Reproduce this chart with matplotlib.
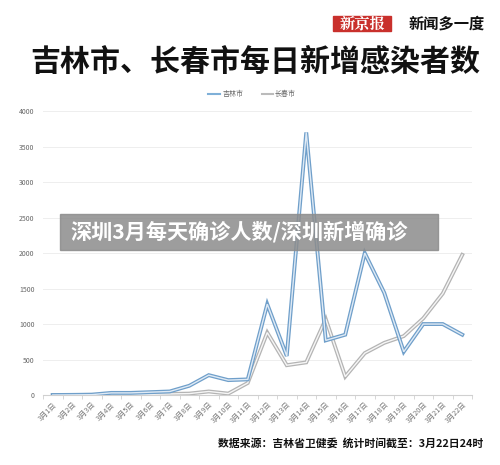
import matplotlib
matplotlib.use("Agg")
import matplotlib.pyplot as plt
from matplotlib.patches import Rectangle

plt.rcParams['font.family'] = ['Noto Sans CJK SC', 'DejaVu Sans']

days = ["3月%d日" % d for d in range(1, 23)]
jilin = [0, 2, 5, 30, 30, 40, 50, 130, 280, 210, 220, 1280, 550, 3700,
         770, 850, 2000, 1440, 610, 1000, 1000, 850]
changchun = [0, 0, 2, 5, 8, 10, 15, 20, 50, 20, 170, 880, 420, 460,
             1070, 260, 590, 735, 830, 1080, 1430, 1975]
yticks = [0, 500, 1000, 1500, 2000, 2500, 3000, 3500, 4000]

fig = plt.figure(figsize=(5, 4.65), dpi=100)
fig.patch.set_facecolor("white")

ax = fig.add_axes([0.086, 0.1505, 0.858, 0.6105])
x = list(range(len(days)))

# double-stroke look of the original lines
ax.plot(x, jilin, color="#6f9fca", lw=2.8, solid_joinstyle="miter", zorder=3)
ax.plot(x, jilin, color="#dfeaf5", lw=1.0, solid_joinstyle="miter", zorder=4)
ax.plot(x, changchun, color="#b4b4b4", lw=2.8, solid_joinstyle="miter", zorder=2)
ax.plot(x, changchun, color="#f6f6f6", lw=1.0, solid_joinstyle="miter", zorder=2.5)

ax.set_xlim(-0.5, len(days) - 0.5)
ax.set_ylim(0, 4000)
ax.set_yticks(yticks)
ax.set_yticklabels([str(v) for v in yticks], fontsize=5, color="#666666")
ax.set_xticks(x)
ax.set_xticklabels(days, rotation=45, ha="right", rotation_mode="anchor",
                   fontsize=5.2, color="#777777")
ax.tick_params(axis="y", length=0, pad=6)
ax.tick_params(axis="x", length=0, pad=4)
ax.set_xticks([i - 0.5 for i in range(len(days) + 1)], minor=True)
ax.tick_params(axis="x", which="minor", length=3, color="#d0d0d0")
ax.grid(axis="y", color="#eeeeee", lw=0.7)
ax.set_axisbelow(True)
for s in ["top", "right", "left"]:
    ax.spines[s].set_visible(False)
ax.spines["bottom"].set_color("#d0d0d0")
ax.spines["bottom"].set_linewidth(0.8)

# header
fig.patches.append(Rectangle((333 / 500, 1 - 31 / 465), 58 / 500, 15 / 465,
                             transform=fig.transFigure, color="#c9302c"))
fig.text(362 / 500, 1 - 23.5 / 465, "新京报", color="white", fontsize=11,
         ha="center", va="center", family=["Noto Serif CJK SC", "Noto Sans CJK SC"],
         fontweight="bold")
fig.text(447 / 500, 1 - 23.5 / 465, "新闻多一度", color="#111111", fontsize=11,
         ha="center", va="center", fontweight="heavy")
fig.text(255 / 500, 1 - 62 / 465, "吉林市、长春市每日新增感染者数", color="#111111",
         fontsize=21.6, ha="center", va="center", fontweight="heavy")

# legend
ly = 1 - 94 / 465
fig.add_artist(plt.Line2D([208 / 500, 220 / 500], [ly, ly], color="#7fb0d8", lw=1.5))
fig.text(223 / 500, ly, "吉林市", fontsize=5, color="#666666", va="center")
fig.add_artist(plt.Line2D([262 / 500, 273 / 500], [ly, ly], color="#bbbbbb", lw=1.5))
fig.text(275 / 500, ly, "长春市", fontsize=5, color="#666666", va="center")

# overlay banner
fig.patches.append(Rectangle((60 / 500, 1 - 250 / 465), 378 / 500, 36 / 465,
                             transform=fig.transFigure, color="#8c8c8c", alpha=0.85,
                             zorder=10))
fig.text(70 / 500, 1 - 232 / 465, "深圳3月每天确诊人数/深圳新增确诊", color="white",
         fontsize=15.2, ha="left", va="center", fontweight="heavy", zorder=11)

# footer
fig.text(483 / 500, 1 - 443 / 465, "数据来源：吉林省卫健委  统计时间截至：3月22日24时",
         color="#111111", fontsize=7.8, ha="right", va="center", fontweight="heavy")

fig.savefig("out.png", dpi=100, facecolor="white")
